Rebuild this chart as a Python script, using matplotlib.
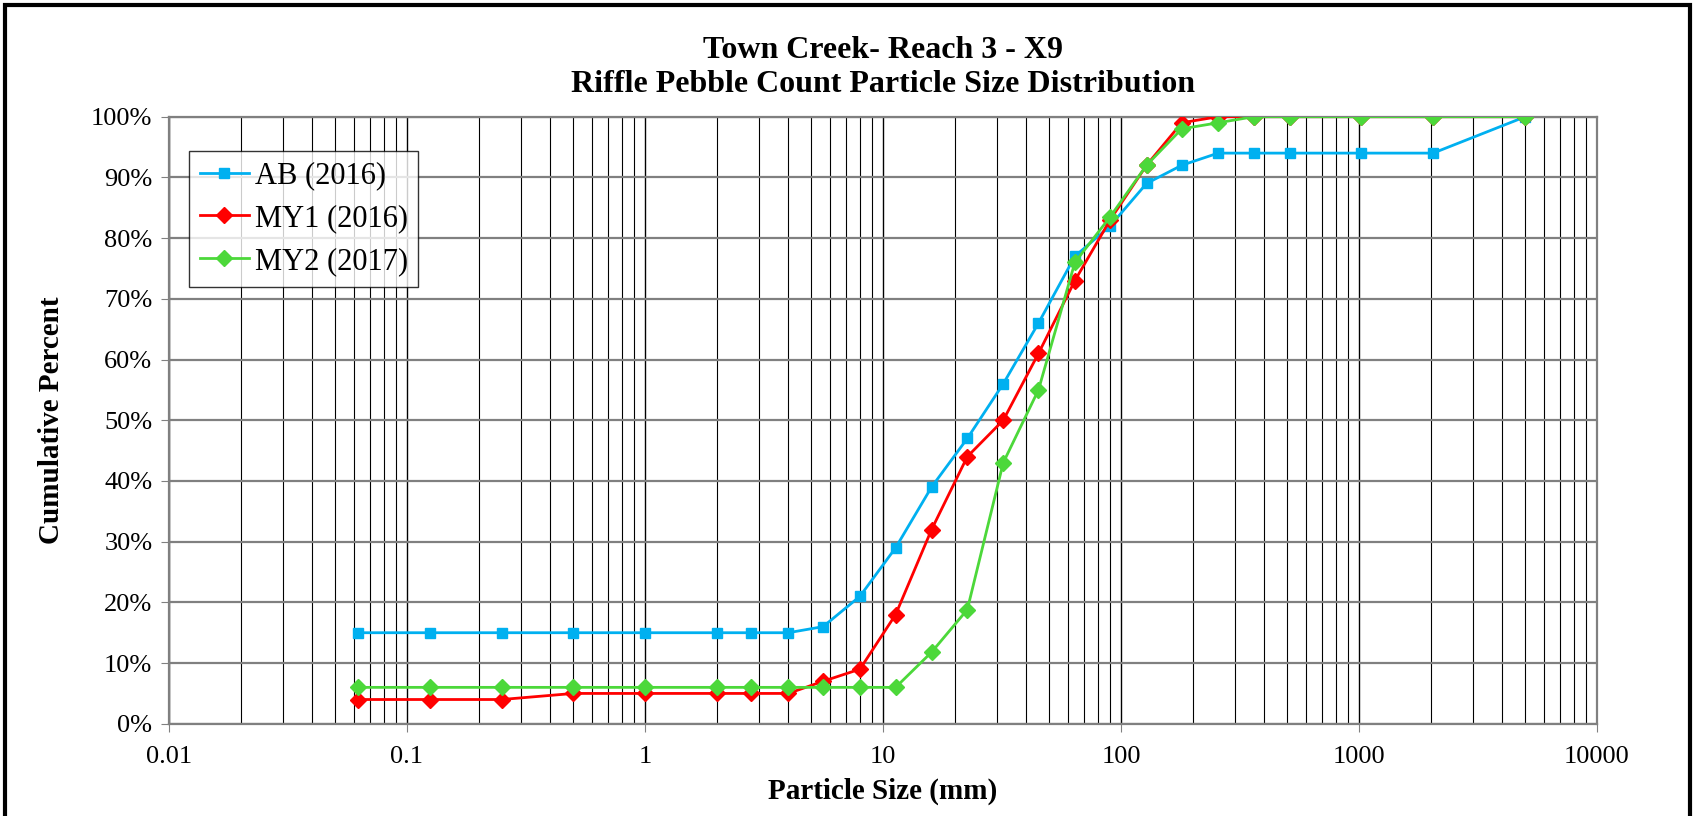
import matplotlib
matplotlib.use("Agg")
import matplotlib.pyplot as plt
from matplotlib.ticker import FixedLocator, LogLocator, NullFormatter, FuncFormatter
from matplotlib.patches import Rectangle

# sieve sizes (mm)
sizes = [0.062, 0.125, 0.25, 0.5, 1, 2, 2.8, 4, 5.6, 8, 11.3, 16, 22.6,
         32, 45, 64, 90, 128, 180, 256, 362, 512, 1024, 2048, 5000]

ab_2016 = [15, 15, 15, 15, 15, 15, 15, 15, 16, 21, 29, 39, 47,
           56, 66, 77, 82, 89, 92, 94, 94, 94, 94, 94, 100]
my1_2016 = [4, 4, 4, 5, 5, 5, 5, 5, 7, 9, 18, 32, 44,
            50, 61, 73, 83, 92, 99, 100, 100, 100, 100, 100, 100]
my2_2017 = [6, 6, 6, 6, 6, 6, 6, 6, 6, 6, 6, 11.8, 18.8,
            43, 55, 76, 83.5, 92, 98, 99, 100, 100, 100, 100, 100]

series = [
    ("AB (2016)", ab_2016, "#00B0F0", "s", 7),
    ("MY1 (2016)", my1_2016, "#FF0000", "D", 8),
    ("MY2 (2017)", my2_2017, "#4CD83A", "D", 8),
]

plt.rcParams["font.family"] = ["Liberation Serif", "DejaVu Serif"]

fig = plt.figure(figsize=(16.95, 8.16), dpi=100)
ax = fig.add_axes([0.0997, 0.113, 0.8425, 0.744])

for label, vals, col, mk, ms in series:
    ax.plot(sizes, [v / 100 for v in vals], color=col, lw=2, marker=mk,
            ms=ms, mec=col, mfc=col, label=label, zorder=3)

ax.set_xscale("log")
ax.set_xlim(0.01, 10000)
ax.set_ylim(0, 1)
ax.xaxis.set_major_locator(FixedLocator([0.01, 0.1, 1, 10, 100, 1000, 10000]))
ax.xaxis.set_minor_locator(LogLocator(base=10, subs=range(2, 10)))
ax.xaxis.set_minor_formatter(NullFormatter())
ax.xaxis.set_major_formatter(FuncFormatter(lambda v, p: f"{v:g}"))
ax.set_yticks([i / 10 for i in range(11)])
ax.yaxis.set_major_formatter(FuncFormatter(lambda v, p: f"{v * 100:.0f}%"))

ax.grid(True, which="major", axis="y", color="#808080", lw=1.6)
ax.grid(True, which="major", axis="x", color="black", lw=1.0)
ax.grid(True, which="minor", axis="x", color="black", lw=0.8)
ax.tick_params(axis="both", which="major", labelsize=19, direction="out",
               length=6, color="#808080")
ax.tick_params(axis="y", pad=6)
ax.tick_params(axis="x", pad=10)
ax.tick_params(axis="x", which="minor", length=0)
for s in ax.spines.values():
    s.set_color("#808080")
    s.set_linewidth(1.6)

ax.set_xlabel("Particle Size (mm)", fontsize=21, fontweight="bold", labelpad=7)
ax.set_ylabel("Cumulative Percent", fontsize=21, fontweight="bold", labelpad=19)
ax.set_title("Town Creek- Reach 3 - X9\nRiffle Pebble Count Particle Size Distribution",
             fontsize=23, fontweight="bold", linespacing=1.2, pad=18)

leg = ax.legend(loc="upper left", bbox_to_anchor=(0.014, 0.944), fontsize=22,
                frameon=True, fancybox=False, edgecolor="black",
                borderaxespad=0, borderpad=0.35, handlelength=1.6,
                handletextpad=0.2, labelspacing=0.45)
leg.get_frame().set_linewidth(1.0)

# outer chart border
fig.patches.append(Rectangle((0.003, -0.05), 0.994, 1.044, transform=fig.transFigure,
                             fill=False, edgecolor="black", lw=3))

fig.savefig("out.png", dpi=100)
